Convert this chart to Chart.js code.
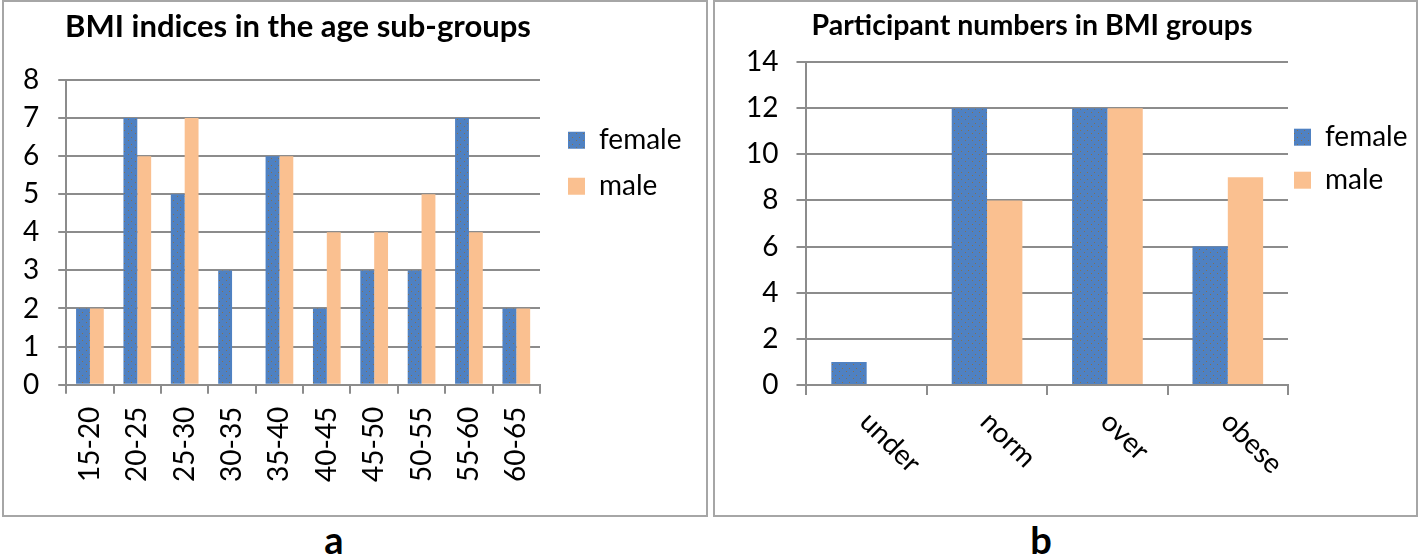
<!DOCTYPE html>
<html>
<head>
<meta charset="utf-8">
<script src="https://cdn.jsdelivr.net/npm/chart.js@4.4.1/dist/chart.umd.min.js"></script>
<style>
  body { margin: 0; background: #fff; font-family: Lato, sans-serif; }
  #page { position: relative; width: 1420px; height: 557px; overflow: hidden; }
  .panel { position: absolute; top: 0; height: 513px; border: 2px solid #a6a6a6; box-sizing: content-box; }
  canvas { position: absolute; top: 2px; }
  .tag { position: absolute; top: 520px; width: 60px; text-align: center; font: bold 38px Lato, sans-serif; line-height: 38px; color: #000; }
</style>
</head>
<body>
<div id="page">
  <div class="panel" style="left:2px;width:702px;"></div>
  <div class="panel" style="left:713px;width:701px;"></div>
  <canvas id="ageChart" width="702" height="511" style="left:4px;"></canvas>
  <canvas id="bmiChart" width="700" height="511" style="left:715px;"></canvas>
  <div class="tag" style="left:304px;">a</div>
  <div class="tag" style="left:1011px;">b</div>
</div>
<script>
// panel a
const ageGroups = ["15-20", "20-25", "25-30", "30-35", "35-40", "40-45", "45-50", "50-55", "55-60", "60-65"];
const ageFemale = [2, 7, 5, 3, 6, 2, 3, 3, 7, 2];
const ageMale = [2, 6, 7, 0, 6, 4, 4, 5, 4, 2];

// panel b
const bmiGroups = ["under", "norm", "over", "obese"];
const bmiFemale = [1, 12, 12, 6];
const bmiMale = [0, 8, 12, 9];

const gridGray = "#8c8c8c";

function dotPattern(base, dot) {
  var c = document.createElement("canvas");
  c.width = 7;
  c.height = 7;
  var g = c.getContext("2d");
  g.fillStyle = base;
  g.fillRect(0, 0, 7, 7);
  g.fillStyle = dot;
  g.fillRect(1, 2, 1, 1);
  g.fillRect(5, 5, 1, 1);
  return g.createPattern(c, "repeat");
}
const femaleFill = dotPattern("#4f81c2", "#86704e");
const maleFill = "#fac090";

// title drawn at a chosen spot, Excel style
const titlePlugin = {
  id: "panelTitle",
  afterDraw(chart, args, opts) {
    const ctx = chart.ctx;
    ctx.save();
    ctx.font = "bold " + opts.size + "px Lato";
    ctx.fillStyle = "#000";
    ctx.textAlign = "center";
    ctx.textBaseline = "alphabetic";
    ctx.fillText(opts.text, opts.x, opts.y);
    ctx.restore();
  }
};

// nudge the legend sideways, let it run to the canvas edge
const legendShift = {
  id: "legendShift",
  afterLayout(chart, args, opts) {
    chart.legend.left += opts.dx;
    chart.legend.right = chart.width;
  }
};

// category labels turned 45 degrees clockwise
const slantLabels = {
  id: "slantLabels",
  afterDraw(chart) {
    const x = chart.scales.x;
    const ctx = chart.ctx;
    ctx.save();
    ctx.font = "28px Lato";
    ctx.fillStyle = "#000";
    ctx.textAlign = "left";
    ctx.textBaseline = "middle";
    x.ticks.forEach((t, i) => {
      ctx.save();
      ctx.translate(x.getPixelForTick(i) - 2, x.top + 32);
      ctx.rotate(Math.PI / 4);
      ctx.fillText(x.getLabelForValue(t.value), 0, 0);
      ctx.restore();
    });
    ctx.restore();
  }
};

function legendOpts(pad, titlePad) {
  return {
    position: "right",
    align: "start",
    fullSize: false,
    maxWidth: 120,
    title: { display: true, text: " ", font: { size: 1 }, padding: { top: titlePad, bottom: 0 } },
    labels: { boxWidth: 17, boxHeight: 17, padding: pad, color: "#000", font: { family: "Lato", size: 28 } }
  };
}

new Chart(document.getElementById("ageChart"), {
  type: "bar",
  data: {
    labels: ageGroups,
    datasets: [
      { label: "female", data: ageFemale, backgroundColor: femaleFill, categoryPercentage: 0.585, barPercentage: 1 },
      { label: "male", data: ageMale, backgroundColor: maleFill, categoryPercentage: 0.585, barPercentage: 1 }
    ]
  },
  options: {
    responsive: false,
    animation: false,
    layout: { padding: { top: 78, left: 0, right: 46, bottom: 18 } },
    plugins: {
      panelTitle: { text: "BMI indices in the age sub-groups", x: 294, y: 35, size: 31 },
      legendShift: { dx: 10 },
      legend: legendOpts(18, 27),
      tooltip: { enabled: false }
    },
    scales: {
      x: {
        ticks: { minRotation: 90, maxRotation: 90, autoSkip: false, padding: 13, color: "#000", font: { family: "Lato", size: 28 } },
        grid: { drawOnChartArea: false, tickLength: 9, color: gridGray, lineWidth: 2 },
        border: { color: gridGray, width: 2 }
      },
      y: {
        min: 0,
        max: 8,
        ticks: { stepSize: 1, padding: 19, color: "#000", font: { family: "Lato", size: 28 } },
        grid: { tickLength: 8, color: gridGray, lineWidth: 2 },
        border: { color: gridGray, width: 2 }
      }
    }
  },
  plugins: [titlePlugin, legendShift]
});

new Chart(document.getElementById("bmiChart"), {
  type: "bar",
  data: {
    labels: bmiGroups,
    datasets: [
      { label: "female", data: bmiFemale, backgroundColor: femaleFill, categoryPercentage: 0.587, barPercentage: 1 },
      { label: "male", data: bmiMale, backgroundColor: maleFill, categoryPercentage: 0.587, barPercentage: 1 }
    ]
  },
  options: {
    responsive: false,
    animation: false,
    layout: { padding: { top: 60, left: 13, right: 7, bottom: 118 } },
    plugins: {
      panelTitle: { text: "Participant numbers in BMI groups", x: 317, y: 33, size: 28.5 },
      legendShift: { dx: -9 },
      legend: legendOpts(15, 45),
      tooltip: { enabled: false }
    },
    scales: {
      x: {
        ticks: { display: false },
        grid: { drawOnChartArea: false, tickLength: 10, color: gridGray, lineWidth: 2 },
        border: { color: gridGray, width: 2 }
      },
      y: {
        min: 0,
        max: 14,
        ticks: { stepSize: 2, padding: 18, color: "#000", font: { family: "Lato", size: 28 } },
        grid: { tickLength: 10, color: gridGray, lineWidth: 2 },
        border: { color: gridGray, width: 2 }
      }
    }
  },
  plugins: [titlePlugin, legendShift, slantLabels]
});
</script>
</body>
</html>
